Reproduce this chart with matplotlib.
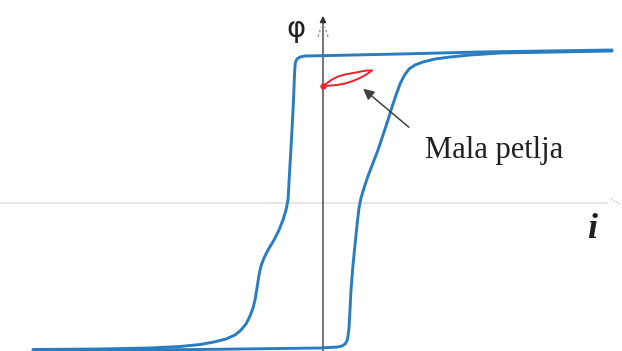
import numpy as np
import matplotlib.pyplot as plt

# origin of the plot sits where the axes cross (pixel 323, 203 in the source)
# descending branch of the big loop (right -> left, top -> bottom)
down_x = [289, 157, 77, 7, -18, -23, -26, -27.5, -28, -28.5, -29.5, -31, -33,
          -35, -37, -40, -44, -49, -55, -59, -62, -64, -66, -68, -70, -73,
          -77, -82, -88, -97, -109, -123, -143, -173, -223, -290]
down_y = [153, 151, 149, 147.5, 147, 146, 144, 141, 137, 128, 103, 73, 38,
          3, -7, -17, -27, -37, -47, -55, -63, -72, -85, -97, -105, -113,
          -121, -127, -132, -136, -139, -141.5, -143.5, -145, -146, -146.5]

# ascending branch (left -> right, bottom -> top)
up_x = [-290, -123, -3, 15, 19, 22, 24, 25, 26, 27, 28, 30, 32, 34, 36, 38,
        41, 45, 50, 55, 60, 65, 69, 73, 77, 81, 86, 92, 100, 112, 127, 147,
        177, 289]
up_y = [-147.5, -146.5, -145, -144, -143, -141, -138, -133, -125, -107, -87,
        -62, -42, -22, -5, 5, 15, 27, 40, 53, 68, 83, 96, 108, 119, 127, 134,
        138, 141, 144, 146, 148, 150, 152]

# small (minor) loop
small_x = [0, 4, 9, 15, 22, 30, 38, 44, 49, 44, 38, 30, 22, 14, 6, 0]
small_y = [117, 120, 123.5, 126.5, 128.5, 130, 131.5, 132.5, 132.5, 129,
           125.5, 122, 119.5, 118, 117.3, 117]

label_text = "Mala petlja"
y_label = "φ"
x_label = "i"

blue = "#2a7cc1"
red = "#f0202a"

fig = plt.figure(figsize=(6.22, 3.51), dpi=100)
ax = fig.add_axes([0, 0, 1, 1])
ax.set_xlim(-323, 299)
ax.set_ylim(-148, 203)
ax.axis("off")

# axes
ax.plot([-323, 284], [0, 0], color="#e2e2e2", lw=1.2, zorder=1)
ax.plot([288, 297], [4, -1], color="#c8c8c8", lw=1, ls=(0, (1, 1)), zorder=1)
ax.plot([0, 0], [-148, 183], color="#505050", lw=1.1, zorder=2)
ax.annotate("", xy=(0, 190), xytext=(0, 178),
            arrowprops=dict(arrowstyle="-|>", color="#303030", lw=1.1,
                            mutation_scale=9))
ax.plot([-5, -2], [166, 176], color="#9a9a9a", lw=1, ls=(0, (2, 1.5)))
ax.plot([5, 2], [166, 176], color="#9a9a9a", lw=1, ls=(0, (2, 1.5)))

# big loop
ax.plot(down_x, down_y, color=blue, lw=2.1, solid_capstyle="round",
        solid_joinstyle="round", zorder=3)
ax.plot(up_x, up_y, color=blue, lw=2.1, solid_capstyle="round",
        solid_joinstyle="round", zorder=3)

# small loop
ax.plot(small_x, small_y, color=red, lw=1.4, zorder=4)
ax.plot([0], [117], "o", color=red, ms=3.5, zorder=4)

# annotation
ax.annotate("", xy=(38, 116), xytext=(88, 74),
            arrowprops=dict(arrowstyle="-|>", color="#404040", lw=1.1,
                            mutation_scale=16))
ax.text(102, 45, label_text, family="Liberation Serif", fontsize=22,
        color="#202020", va="baseline", ha="left")

ax.text(-27, 174, y_label, family="DejaVu Sans", fontsize=21,
        color="#202020", va="center", ha="center")
ax.text(269, -27, x_label, family="Liberation Serif", style="italic",
        weight="bold", fontsize=26, color="#202020", va="center",
        ha="center")

fig.savefig("out.png", dpi=100)
